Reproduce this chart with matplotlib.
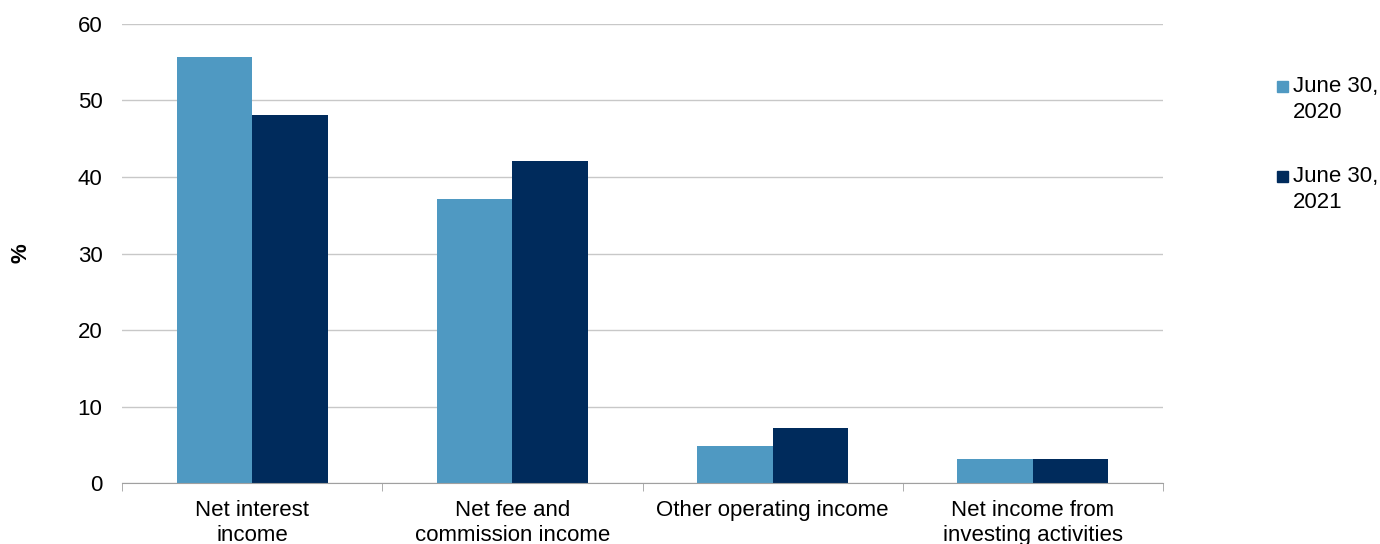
import matplotlib.pyplot as plt
import matplotlib.patches as mpatches
import numpy as np

plt.rcParams["font.family"] = ["Liberation Sans", "DejaVu Sans"]

# Data
categories = ["Net interest\nincome", "Net fee and\ncommission income",
              "Other operating income", "Net income from\ninvesting activities"]
series_names = ["June 30,\n2020", "June 30,\n2021"]
values_2020 = [55.7, 37.1, 4.8, 3.1]
values_2021 = [48.1, 42.1, 7.2, 3.2]
colors = ["#4F99C2", "#002B5C"]

W, H = 1380, 544
fig = plt.figure(figsize=(W / 100, H / 100), dpi=100)
ax = fig.add_axes([0.0884, 0.1121, 0.7544, 0.8438])

x = np.arange(len(categories))
w = 0.29
ax.bar(x - w / 2, values_2020, w, color=colors[0], zorder=2)
ax.bar(x + w / 2, values_2021, w, color=colors[1], zorder=2)

ax.set_xlim(-0.5, len(categories) - 0.5)
ax.set_ylim(0, 60)
ax.set_yticks(range(0, 61, 10))
ax.yaxis.grid(True, color="#C8C8C8", linewidth=1, zorder=0)
ax.set_axisbelow(True)
for s in ["top", "right", "left"]:
    ax.spines[s].set_visible(False)
ax.spines["bottom"].set_color("#A0A0A0")
ax.tick_params(axis="y", length=0, labelsize=16, pad=14)

ax.set_xticks(x)
ax.set_xticklabels(categories, fontsize=16, linespacing=1.3)
ax.tick_params(axis="x", length=0, pad=12)
ax.set_xticks(np.arange(-0.5, len(categories), 1.0), minor=True)
ax.tick_params(axis="x", which="minor", length=6, color="#A0A0A0")

fig.text(0.015, 0.535, "%", rotation=90, fontsize=16, fontweight="bold",
         ha="center", va="center")

# Legend drawn by hand so the marker sits beside the first line
for i, (name, c) in enumerate(zip(series_names, colors)):
    top = 81 + 90 * i
    fig.patches.append(mpatches.Rectangle(
        (1277 / W, 1 - (top + 11) / H), 11 / W, 11 / H,
        transform=fig.transFigure, color=c, figure=fig))
    fig.text(1293 / W, 1 - (top - 5) / H, name, fontsize=16, va="top",
             ha="left", linespacing=1.3)

fig.savefig("out.png", dpi=100)
